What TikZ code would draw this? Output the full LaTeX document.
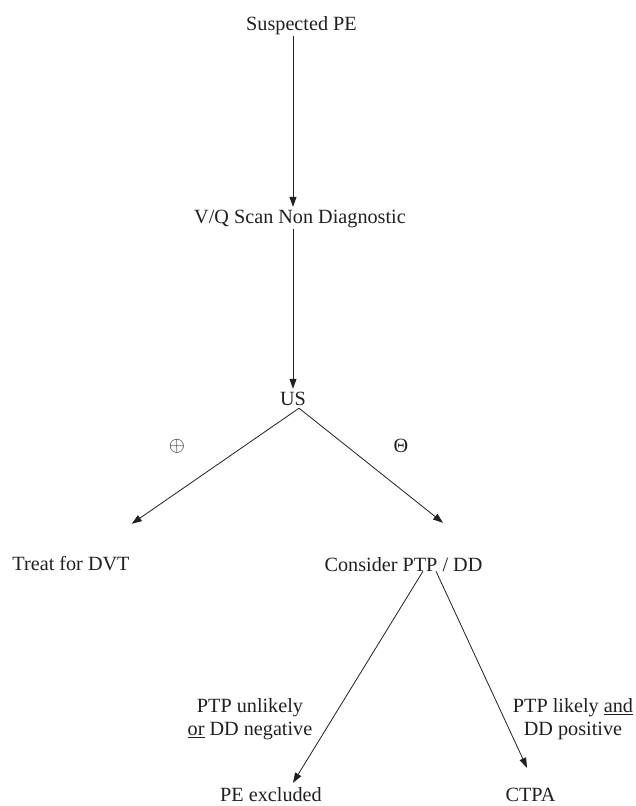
\documentclass[tikz,border=0pt]{standalone}
\usepackage{fontspec}
\setmainfont{Liberation Serif}
\usetikzlibrary{arrows.meta}
\definecolor{ink}{HTML}{231F20}
\begin{document}
\begin{tikzpicture}[x=1pt,y=-1pt,
  every node/.style={font=\fontsize{20.2}{23}\selectfont, text=ink},
  txt/.style={inner sep=2pt, text height=14pt, text depth=4pt, anchor=base},
  endtxt/.style={txt, text depth=0pt, inner sep=1pt},
  lbl/.style={align=center, inner sep=0pt},
  conn/.style={draw=ink, line width=0.8pt},
  arr/.style={conn, -{Triangle[length=10pt,width=7pt]}}]
\useasboundingbox (0,0) rectangle (636,806);
\node[txt] (sp) at (301.5,30) {Suspected PE};
\node[txt] (vq) at (300,223) {V/Q Scan Non Diagnostic};
\node[txt] (us) at (293,405) {US};
\node[txt] (dvt) at (71,570) {Treat for DVT};
\node[txt] (cons) at (403.5,571) {Consider PTP / DD};
\node[endtxt] (pe) at (271,801) {PE excluded};
\node[endtxt] (ctpa) at (530.5,801) {CTPA};
\node[lbl] (plus) at (177,446) {$\oplus$};
\node[lbl] (minus) at (401,446) {Θ};
\node[lbl] (lneg) at (250,719) {PTP unlikely\\\underline{or} DD negative};
\node[lbl] (lpos) at (573,719) {PTP likely \underline{and}\\DD positive};
\draw[arr] (sp.south -| us.north) -- (vq.north -| us.north);
\draw[arr] (vq.south -| us.north) -- (us.north);
\draw[arr] ([xshift=6pt,yshift=3pt]us.south) -- ([yshift=30pt]dvt.north east);
\draw[arr] ([xshift=6pt,yshift=3pt]us.south) -- ([xshift=39.5pt,yshift=32pt]cons.north);
\draw[arr] ([xshift=19.5pt,yshift=6pt]cons.south) -- ([xshift=22pt,yshift=3pt]pe.north);
\draw[arr] ([xshift=32.5pt,yshift=6pt]cons.south) -- ([xshift=-3.5pt,yshift=18pt]ctpa.north);
\end{tikzpicture}
\end{document}
